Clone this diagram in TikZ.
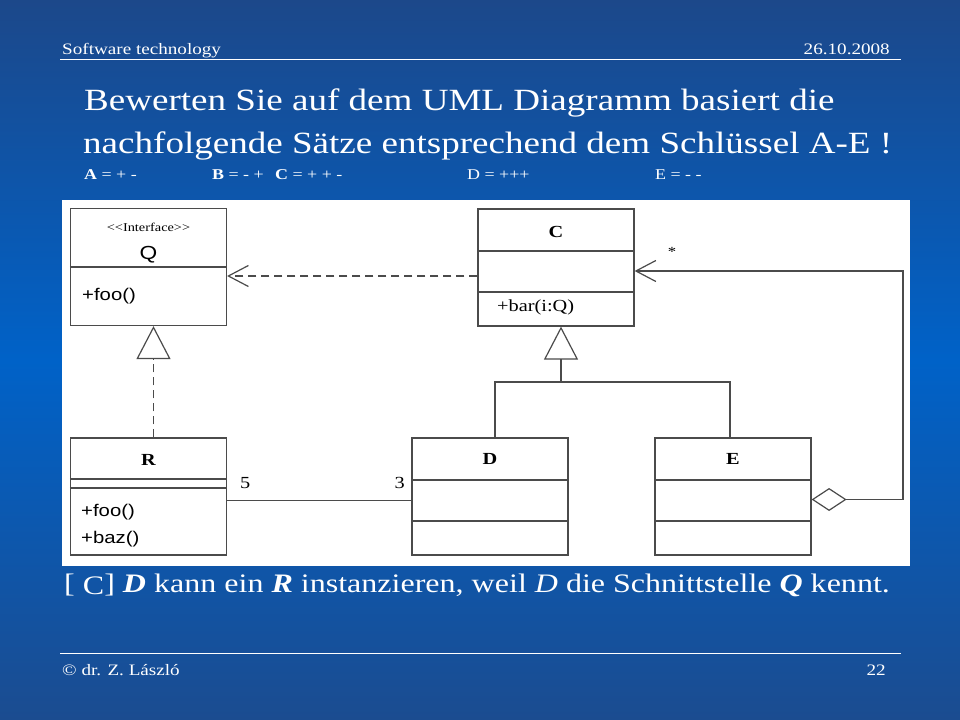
\documentclass[tikz,border=0pt]{standalone}
\usepackage{fontspec}
\setmainfont[FakeStretch=1.2]{Liberation Serif}
\newfontfamily\umlsans[FakeStretch=1.2]{Liberation Sans}
\usetikzlibrary{arrows.meta}

\definecolor{folieoben}{RGB}{28,72,138}
\definecolor{foliemitte}{RGB}{0,98,200}
\definecolor{folieunten}{RGB}{27,76,144}
\definecolor{umlgrau}{RGB}{75,75,75}

\tikzset{
	klasse/.style={draw=umlgrau, fill=white, line width=1.2bp, inner sep=0pt, minimum width=156bp, minimum height=117bp},
	fach/.style={draw=umlgrau, line width=1.2bp},
	linie/.style={draw=umlgrau, line width=1.2bp},
	gestrichelt/.style={linie, dash pattern=on 8bp off 5bp},
	offen/.style={-{Straight Barb[length=20bp, width=21bp, line width=1.2bp]}},
	erbt/.style={-{Triangle[open, length=33bp, width=34bp, line width=1.2bp]}},
	aggr/.style={{Diamond[open, length=35bp, width=23bp, line width=1.2bp]}-{Straight Barb[length=20bp, width=21bp, line width=1.2bp]}},
	weiss/.style={text=white, inner sep=0pt},
	umltext/.style={text=black, inner sep=0pt}
}

\begin{document}
\begin{tikzpicture}[x=1bp, y=-1bp]
	% Hintergrund
	\useasboundingbox (0,0) rectangle (960,720);
	\shade [top color=folieoben, bottom color=folieunten, middle color=foliemitte] (0,0) rectangle (960,720);
	% Kopf und Fuss
	\node [weiss, anchor=base west, font=\fontsize{16}{18}\selectfont] (thema) at (62,55) {Software technology};
	\node [weiss, anchor=base east, font=\fontsize{16}{18}\selectfont] (datum) at (890,55) {26.10.2008};
	\draw [white, line width=1bp] (60,60) -- (901,60);
	\draw [white, line width=1bp] (60,653) -- (901,653);
	\node [weiss, anchor=base west, font=\fontsize{16}{18}\selectfont] (autor) at (62,675) {© dr. Z. László};
	\node [weiss, anchor=base east, font=\fontsize{16}{18}\selectfont] (seite) at (886,675) {22};
	% Aufgabe
	\node [weiss, anchor=base west, font=\fontsize{31}{36}\selectfont] (zeile1) at (84,111) {Bewerten Sie auf dem UML Diagramm basiert die};
	\node [weiss, anchor=base west, font=\fontsize{31}{36}\selectfont] (zeile2) at (83,154) {nachfolgende Sätze entsprechend dem Schlüssel A-E !};
	\node [weiss, anchor=base west, font=\fontsize{15}{17}\selectfont] (schA) at (84,180) {\textbf{A} = + -};
	\node [weiss, anchor=base west, font=\fontsize{15}{17}\selectfont] (schB) at (212,180) {\textbf{B} = - +};
	\node [weiss, anchor=base west, font=\fontsize{15}{17}\selectfont] (schC) at (275,180) {\textbf{C} = + + -};
	\node [weiss, anchor=base west, font=\fontsize{15}{17}\selectfont] (schD) at (467,180) {D = +++};
	\node [weiss, anchor=base west, font=\fontsize{15}{17}\selectfont] (schE) at (655,180) {E = - -};
	% UML Diagramm
	\fill [white] (62,200) rectangle (910,566);
	\node [klasse] (Q) at (148.5,267) {};
	\node [klasse] (C) at (556,267.5) {};
	\node [klasse] (R) at (148.5,496.5) {};
	\node [klasse] (D) at (490,496.5) {};
	\node [klasse] (E) at (733,496.5) {};
	% Faecher
	\draw [fach] (Q.west |- 0,267) -- (Q.east |- 0,267);
	\draw [fach] (C.west |- 0,251) -- (C.east |- 0,251);
	\draw [fach] (C.west |- 0,292) -- (C.east |- 0,292);
	\draw [fach] (R.west |- 0,479) -- (R.east |- 0,479);
	\draw [fach] (R.west |- 0,488) -- (R.east |- 0,488);
	\draw [fach] (D.west |- 0,480) -- (D.east |- 0,480);
	\draw [fach] (D.west |- 0,521) -- (D.east |- 0,521);
	\draw [fach] (E.west |- 0,480) -- (E.east |- 0,480);
	\draw [fach] (E.west |- 0,521) -- (E.east |- 0,521);
	% Beschriftung
	\node [umltext, font=\fontsize{12}{14}\selectfont] (stereo) at (148.5,227) {{<}{<}Interface{>}{>}};
	\node [umltext, font=\umlsans\fontsize{19}{21}\selectfont] (nameQ) at (148.5,255) {Q};
	\node [umltext, anchor=west, font=\umlsans\fontsize{17}{19}\selectfont] (fooQ) at (82,296) {+foo()};
	\node [umltext, font=\bfseries\fontsize{17}{20}\selectfont] (nameC) at (556,232) {C};
	\node [umltext, anchor=west, font=\fontsize{17}{19}\selectfont] (barC) at (497,307) {+bar(i:Q)};
	\node [umltext, font=\bfseries\fontsize{17}{20}\selectfont] (nameR) at (148.5,460) {R};
	\node [umltext, anchor=west, font=\umlsans\fontsize{17}{19}\selectfont] (fooR) at (81,512) {+foo()};
	\node [umltext, anchor=west, font=\umlsans\fontsize{17}{19}\selectfont] (bazR) at (81,539) {+baz()};
	\node [umltext, font=\bfseries\fontsize{17}{20}\selectfont] (nameD) at (490,459) {D};
	\node [umltext, font=\bfseries\fontsize{17}{20}\selectfont] (nameE) at (733,459) {E};
	% Beziehungen
	\coordinate (cq) at (C.west |- 0,276);
	\draw [gestrichelt, offen] (cq) -- (cq -| Q.east);
	\draw [gestrichelt, erbt] ([xshift=5bp]R.north) -- ([xshift=5bp]Q.south);
	\coordinate (gabel) at ([xshift=5bp]C.south |- 0,382);
	\draw [linie] ([xshift=5bp]D.north) |- (gabel) -| ([xshift=-3bp]E.north);
	\draw [linie, erbt] (gabel) -- ([xshift=5bp]C.south);
	\draw [linie] ([yshift=-4bp]R.east) -- ([yshift=-4bp]D.west);
	\node [umltext, anchor=west, font=\fontsize{17}{20}\selectfont] (mult5) at (240,483) {5};
	\node [umltext, anchor=east, font=\fontsize{17}{20}\selectfont] (mult3) at (405,483) {3};
	\coordinate (rueck) at (903,271);
	\draw [linie, aggr] ([yshift=-3bp]E.east) -- ([yshift=-3bp]E.east -| rueck) -- (rueck) -- (rueck -| C.east);
	\node [umltext, font=\fontsize{14}{16}\selectfont] (stern) at (672,252) {*};
	% Aussage
	\node [weiss, anchor=base west, font=\fontsize{26.8}{30}\selectfont] (aussage) at (64,592) {[ \raisebox{-2bp}{C}] \textbf{\textit{D}} kann ein \textbf{\textit{R}} instanzieren, weil \textit{D} die Schnittstelle \textbf{\textit{Q}} kennt.};
\end{tikzpicture}
\end{document}
